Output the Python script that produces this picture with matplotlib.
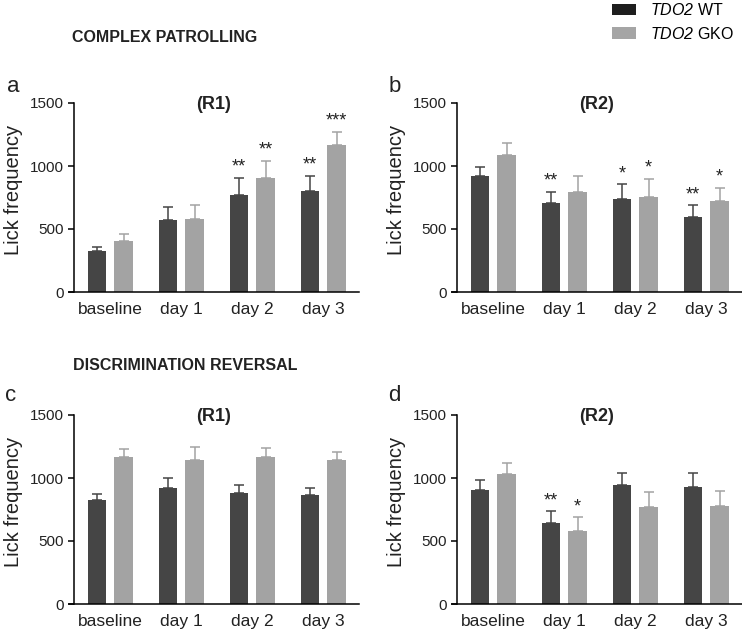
import matplotlib
matplotlib.use("Agg")
import matplotlib.pyplot as plt
from matplotlib.patches import Patch
import numpy as np

plt.rcParams['font.family'] = ['Liberation Sans', 'DejaVu Sans']
plt.rcParams['mathtext.fontset'] = 'custom'
plt.rcParams['mathtext.it'] = 'Liberation Sans:italic'
plt.rcParams['mathtext.rm'] = 'Liberation Sans:italic'

# data (mean, upper SEM)
groups = ['baseline', 'day 1', 'day 2', 'day 3']

a_wt = [325, 569, 770, 802]
a_wt_err = [30, 106, 135, 119]
a_gko = [402, 577, 908, 1167]
a_gko_err = [61, 111, 132, 103]
a_wt_sig = ['', '', '**', '**']
a_gko_sig = ['', '', '**', '***']

b_wt = [923, 709, 741, 593]
b_wt_err = [67, 87, 114, 95]
b_gko = [1090, 796, 757, 725]
b_gko_err = [95, 122, 140, 103]
b_wt_sig = ['', '**', '*', '**']
b_gko_sig = ['', '', '*', '*']

c_wt = [826, 921, 878, 865]
c_wt_err = [44, 82, 64, 56]
c_gko = [1170, 1143, 1170, 1143]
c_gko_err = [58, 103, 68, 66]
c_wt_sig = ['', '', '', '']
c_gko_sig = ['', '', '', '']

d_wt = [905, 640, 945, 929]
d_wt_err = [79, 96, 92, 108]
d_gko = [1029, 579, 770, 778]
d_gko_err = [88, 109, 122, 119]
d_wt_sig = ['', '**', '', '']
d_gko_sig = ['', '*', '', '']

WT_COL = '#454545'
GKO_COL = '#a3a3a3'
W, H = 742, 637


def panel(rect, title, wt, wt_err, gko, gko_err, wt_sig, gko_sig):
    ax = fig.add_axes(rect)
    x = np.arange(len(groups))
    off, bw = 0.188, 0.258
    for xs, vals, err, sig, col in [(x - off, wt, wt_err, wt_sig, WT_COL),
                                    (x + off, gko, gko_err, gko_sig, GKO_COL)]:
        ax.bar(xs, vals, width=bw, color=col, zorder=2)
        ax.errorbar(xs, vals, yerr=[np.zeros(len(vals)), err], fmt='none',
                    ecolor=col, elinewidth=1.1, capsize=3.3, capthick=1.1, zorder=3)
        for xi, v, e, s in zip(xs, vals, err, sig):
            if s:
                ax.annotate(s, (xi, v + e), xytext=(0, 1.5), textcoords='offset points',
                            ha='center', va='bottom', fontsize=13, color='#222222')
    ax.set_xlim(-0.58, 3.5)
    ax.set_ylim(0, 1500)
    ax.set_yticks([0, 500, 1000, 1500])
    ax.set_xticks(x)
    ax.set_xticklabels(groups, fontsize=12.5, color='#222222')
    ax.tick_params(axis='x', length=0, pad=7)
    ax.tick_params(axis='y', labelsize=11, labelcolor='#222222', length=4, width=1.1, pad=3)
    for s in ['top', 'right']:
        ax.spines[s].set_visible(False)
    ax.spines['left'].set_position(('data', -0.51))
    ax.spines['left'].set_linewidth(1.1)
    ax.spines['bottom'].set_linewidth(1.1)
    ax.set_ylabel('Lick frequency', fontsize=14.5, color='#222222')
    ax.yaxis.set_label_coords(-0.158, 0.54)
    ax.text(0.5, 0.99, title, transform=ax.transAxes, ha='center', va='center',
            fontsize=13, fontweight='bold', color='#222222')
    return ax


fig = plt.figure(figsize=(W / 100, H / 100), dpi=100)
aw, ah = 289.7 / W, 189 / H
left1, left2 = 69 / W, 452 / W
bot1, bot2 = 1 - 292 / H, 1 - 604 / H

panel([left1, bot1, aw, ah], '(R1)', a_wt, a_wt_err, a_gko, a_gko_err, a_wt_sig, a_gko_sig)
panel([left2, bot1, aw, ah], '(R2)', b_wt, b_wt_err, b_gko, b_gko_err, b_wt_sig, b_gko_sig)
panel([left1, bot2, aw, ah], '(R1)', c_wt, c_wt_err, c_gko, c_gko_err, c_wt_sig, c_gko_sig)
panel([left2, bot2, aw, ah], '(R2)', d_wt, d_wt_err, d_gko, d_gko_err, d_wt_sig, d_gko_sig)

# panel letters and section headings
for lab, px, py in [('a', 13, 92), ('b', 395, 92), ('c', 11, 401), ('d', 394, 401)]:
    fig.text(px / W, 1 - py / H, lab, ha='center', va='baseline', fontsize=16, color='#222222')
fig.text(72 / W, 1 - 37 / H, 'COMPLEX PATROLLING', fontsize=11.5, fontweight='bold',
         va='center', ha='left', color='#222222')
fig.text(73 / W, 1 - 365 / H, 'DISCRIMINATION REVERSAL', fontsize=11.5, fontweight='bold',
         va='center', ha='left', color='#222222')

handles = [Patch(facecolor='#1e1e1e'), Patch(facecolor='#a5a5a5')]
fig.legend(handles, [r'$TDO2$ WT', r'$TDO2$ GKO'],
           loc='upper left', bbox_to_anchor=(610 / W, 1.0), frameon=False,
           fontsize=11.5, handlelength=1.5, handleheight=0.7, handletextpad=0.85,
           labelspacing=0.45, borderaxespad=0, borderpad=0.15)

fig.savefig('out.png', dpi=100)
